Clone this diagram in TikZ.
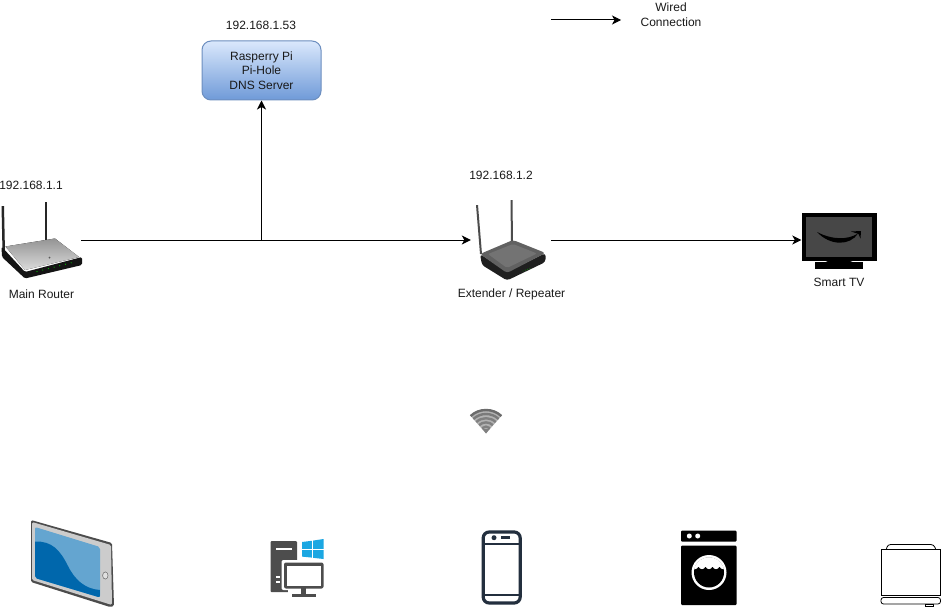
\documentclass[tikz,border=0pt]{standalone}
\usepackage{fontspec}
\setmainfont{Liberation Sans}
\usetikzlibrary{arrows.meta}
\definecolor{txt}{HTML}{1A1A1A}
\definecolor{boxtop}{HTML}{DAE8FC}
\definecolor{boxbot}{HTML}{6F9AD8}
\definecolor{boxline}{HTML}{6C8EBF}
\definecolor{tabdark}{HTML}{0067AC}
\definecolor{tablight}{HTML}{64A5D0}
\definecolor{pcgrey}{HTML}{4D4D4D}
\definecolor{winblue}{HTML}{1BA7E2}
\definecolor{phoneline}{HTML}{232F3E}
\tikzset{
  x=1pt,y=-1pt,
  lbl/.style={inner sep=0pt,font=\fontsize{12}{15}\selectfont,text=txt,align=center},
  wire/.style={line width=1pt,black},
  wirearrow/.style={wire,-{Stealth[length=9pt,width=9pt,inset=2.5pt]}},
  piholebox/.style={rounded corners=9pt,draw=boxline,line width=1pt,top color=boxtop,bottom color=boxbot,
    minimum width=119pt,minimum height=59pt,inner sep=0pt,font=\fontsize{12}{14.7}\selectfont,text=txt,align=center},
}
\begin{document}
\begin{tikzpicture}
\useasboundingbox (0,0) rectangle (942,607);
\fill[white] (0,0) rectangle (942,607);

% anchors for connections
\node[inner sep=0pt,minimum width=80pt,minimum height=76pt] (router) at (41,240) {};
\node[inner sep=0pt,minimum width=80pt,minimum height=80pt] (extender) at (511,240) {};
\node[inner sep=0pt,minimum width=75pt,minimum height=56pt] (tv) at (839,240) {};
\node[piholebox] (pihole) at (261.5,70.5) {Rasperry Pi\\Pi-Hole\\DNS Server};
\coordinate (junction) at (261.5,240);
\coordinate (legA) at (551,20);
\coordinate (legB) at (621,20);

% connectors
\draw[wirearrow] (router.east) -- (extender.west);
\draw[wirearrow] (junction) -- (pihole.south);
\draw[wirearrow] (extender.east) -- (tv.west);
\draw[wirearrow] (legA) -- (legB);

% labels
\node[lbl] (ip53) at (261,25) {192.168.1.53};
\node[lbl] (ip1) at (31,185) {192.168.1.1};
\node[lbl] (ip2) at (501,175) {192.168.1.2};
\node[lbl] (mainr) at (41.5,294) {Main Router};
\node[lbl] (extr) at (511.5,294) {Extender / Repeater};
\node[lbl] (stv) at (839,282) {Smart TV};
\node[lbl] (wc) at (671,15) {Wired\\Connection};

% main router
\fill[black!85] (1.5,206) -- (4,206) -- (5,252) -- (2.5,252) -- cycle;
\fill[black!85] (44.5,202) -- (47,202) -- (47,241) -- (44.5,241) -- cycle;
\fill[black!92,rounded corners=1.5pt] (1.5,246.5) -- (25,272) -- (82,257) -- (82,265) -- (25,278.5) -- (2,257) -- cycle;
\fill[top color=black!42,bottom color=black!14] (5.5,246.5) -- (55,238.5) -- (79,257) -- (25,270) -- cycle;
\fill[black!65] (49.5,257.5) circle (1pt);
\foreach \i in {0,...,6}{\fill[green!75!black] (37+\i*5.7,271.5-\i*1.45) circle (0.6pt);}

% extender
\fill[black!70] (476,205) -- (478,205) -- (482,254) -- (480,254) -- cycle;
\fill[black!70] (510.5,200) -- (512.5,200) -- (513,243) -- (511,243) -- cycle;
\fill[black!88,rounded corners=3pt] (480,254) -- (507,272) -- (545.5,253) -- (545.5,262) -- (507,280.5) -- (482,265) -- cycle;
\fill[black!62,rounded corners=3pt] (480,254) -- (513,240) -- (545.5,253) -- (507,273) -- cycle;
\fill[black!55,rounded corners=2pt] (488,254) -- (513,244) -- (537,253.5) -- (507,268) -- cycle;
\foreach \i in {0,...,3}{\fill[green!70!black] (523+\i*2.3,271-\i*0.9) circle (0.45pt);}

% smart tv
\fill[black] (802,213) rectangle (876.5,261);
\fill[black!72] (806,217) rectangle (872,257);
\fill[black] (815,262) rectangle (863,268.5);
\fill[black] (828,261) -- (850,261) -- (855,263) -- (823,263) -- cycle;
\fill[black] (817,232) .. controls (832,240) and (848,240) .. (858,233.5) .. controls (850,246) and (830,246) .. (817,232) -- cycle;
\fill[black] (851,231.5) -- (861,231) -- (860.5,238.5) -- (858.5,234) -- cycle;

% wifi
\fill[black!30] (486,433.5) -- ([shift={(48:24pt)}]486,433) arc[start angle=48,end angle=132,radius=24pt] -- cycle;
\foreach \r/\g in {22.5/58,18.5/52,14.3/50,10.1/50,5.9/50}{
  \draw[black!\g,line width=2.4pt] ([shift={(47:\r pt)}]486,432.5) arc[start angle=47,end angle=133,radius=\r pt];
}
\fill[black!50] (486,433.5) -- (482.5,429) -- (489.5,429) -- cycle;

% tablet
\fill[black!70,rounded corners=1.5pt] (31,520) -- (112,543) -- (114,606) -- (110,607) -- (31,582) -- cycle;
\fill[black!20,rounded corners=1.5pt] (32,522) -- (111,545) -- (112,605) -- (32,580) -- cycle;
\fill[tablight,rounded corners=2pt] (35,527) -- (100,547) -- (100,597.5) -- (35,578) -- cycle;
\begin{scope}
\clip[rounded corners=2pt] (35,527) -- (100,547) -- (100,597.5) -- (35,578) -- cycle;
\fill[tabdark] (35,541.5) .. controls (52,541) and (60,550) .. (68,566) .. controls (75,580) and (85,589) .. (100,590) -- (100,600) -- (35,580) -- cycle;
\end{scope}
\draw[black!60,fill=black!12,line width=0.5pt] (105.3,575.5) ellipse (2.7pt and 3.6pt);

% windows pc
\fill[pcgrey,rounded corners=1pt] (270.5,541) rectangle (297,592);
\fill[white] (275.5,547.5) rectangle (292,550);
\fill[white] (275.5,576) rectangle (280,577.5);
\fill[white] (275.5,581) rectangle (280,582.5);
\fill[white,rounded corners=2pt] (281.5,560) rectangle (325,590);
\fill[pcgrey,rounded corners=2pt] (284,562.5) rectangle (323.5,588.5);
\fill[white] (287,565.5) rectangle (320.5,585.5);
\fill[white] (288,588.5) rectangle (320,598);
\fill[pcgrey] (301,588) rectangle (306,594.5);
\fill[pcgrey] (291.5,594) rectangle (315.5,597);
\fill[winblue] (302,542) -- (311.8,540.8) -- (311.8,548.8) -- (302,548.8) -- cycle;
\fill[winblue] (313,540.6) -- (323.5,539) -- (323.5,548.8) -- (313,548.8) -- cycle;
\fill[winblue] (302,550) -- (311.8,550) -- (311.8,557.6) -- (302,556.6) -- cycle;
\fill[winblue] (313,550) -- (323.5,550) -- (323.5,559) -- (313,557.8) -- cycle;

% phone
\draw[phoneline,line width=3.2pt,rounded corners=6pt] (483.2,532) rectangle (520.2,603);
\draw[phoneline,line width=2pt] (483,543.5) -- (520,543.5);
\draw[phoneline,line width=2pt] (483,594.5) -- (520,594.5);
\fill[phoneline] (494,537.7) circle (2.5pt);
\fill[phoneline] (500.5,536) rectangle (509.5,539);

% washing machine
\fill[black,rounded corners=1pt] (681,530.7) rectangle (736.5,541.7);
\fill[white] (689.3,536) circle (2.5pt);
\fill[white] (697.7,536) circle (2.5pt);
\fill[black,rounded corners=1pt] (681,545.7) rectangle (736.5,605);
\fill[white] (709,572.5) circle (17.5pt);
\fill[black] (709,572.5) circle (15pt);
\begin{scope}
\clip (709,572.5) circle (15.2pt);
\fill[white] (690,555) rectangle (728,567);
\foreach \cx in {695,702,709,716,723}{\fill[white] (\cx-3.5,566.5) .. controls (\cx-2,570) and (\cx+2,570) .. (\cx+3.5,566.5) -- cycle;}
\end{scope}

% appliance
\draw[black,line width=0.8pt,rounded corners=3pt] (886.5,549) -- (887.5,544.5) -- (934,544.5) -- (935.5,549);
\draw[black,line width=0.8pt] (881,549) rectangle (940.5,595);
\draw[black,line width=0.8pt,rounded corners=2.5pt] (881,597.5) -- (940.5,597.5) -- (940.5,604) -- (881,604) -- cycle;
\draw[black,line width=0.8pt] (925.5,604) rectangle (933,606.5);
\end{tikzpicture}
\end{document}
